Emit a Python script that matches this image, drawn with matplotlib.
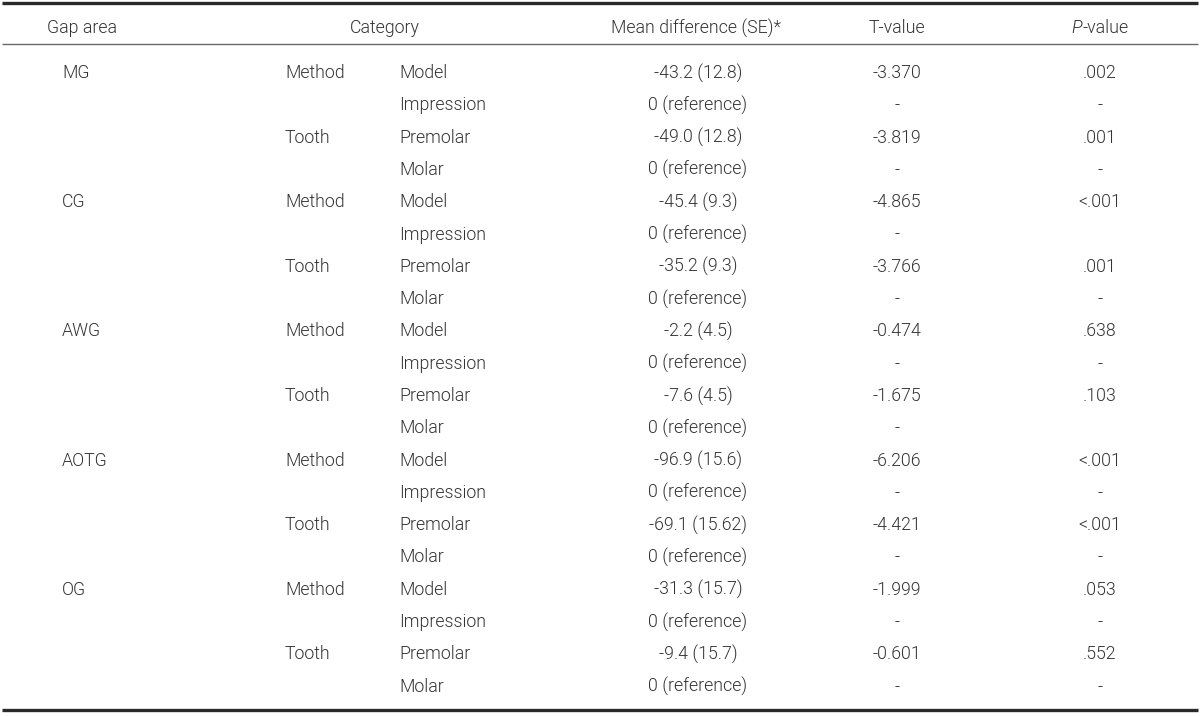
import matplotlib
matplotlib.use("Agg")
import matplotlib.pyplot as plt
from matplotlib import font_manager

# pick a light sans-serif if one is installed, else Liberation Sans
light_family, light_weight = "Liberation Sans", "normal"
for fam in ["Roboto", "Lato", "Open Sans", "Noto Sans", "Inter"]:
    if any(f.name == fam and str(f.weight) in ("300", "light")
           for f in font_manager.fontManager.ttflist):
        light_family, light_weight = fam, 300
        break

plt.rcParams['font.family'] = [light_family, 'DejaVu Sans']

headers = ["Gap area", "Category", "Mean difference (SE)*", "T-value"]
p_header = ("P", "-value")

gap_areas = ["MG", "", "", "", "CG", "", "", "", "AWG", "", "", "",
             "AOTG", "", "", "", "OG", "", "", ""]
factors = ["Method", "", "Tooth", ""] * 5
levels = ["Model", "Impression", "Premolar", "Molar"] * 5
mean_diff = ["-43.2 (12.8)", "0 (reference)", "-49.0 (12.8)", "0 (reference)",
             "-45.4 (9.3)", "0 (reference)", "-35.2 (9.3)", "0 (reference)",
             "-2.2 (4.5)", "0 (reference)", "-7.6 (4.5)", "0 (reference)",
             "-96.9 (15.6)", "0 (reference)", "-69.1 (15.62)", "0 (reference)",
             "-31.3 (15.7)", "0 (reference)", "-9.4 (15.7)", "0 (reference)"]
t_values = ["-3.370", "-", "-3.819", "-",
            "-4.865", "-", "-3.766", "-",
            "-0.474", "-", "-1.675", "-",
            "-6.206", "-", "-4.421", "-",
            "-1.999", "-", "-0.601", "-"]
p_values = [".002", "-", ".001", "-",
            "<.001", "", ".001", "-",
            ".638", "-", ".103", "",
            "<.001", "-", "<.001", "-",
            ".053", "-", ".552", "-"]

W, H = 1200, 716
fig = plt.figure(figsize=(W / 100, H / 100), dpi=100)
ax = fig.add_axes([0, 0, 1, 1])
ax.set_xlim(0, W)
ax.set_ylim(H, 0)
ax.axis("off")

txt_color = "#333333"
fs = 12.8

x_gap_hdr, x_gap = 82, 62
x_cat_hdr, x_fac, x_lvl = 385, 285, 399
x_md_hdr, x_md = 696, 698
x_t = 897
x_p = 1100

y_hdr = 28
y0, dy = 73, 32.3

ax.plot([2, 1198], [3, 3], color="#2a2a2a", lw=2.4, solid_capstyle="butt")
ax.plot([2, 1198], [44, 44], color="#6a6a6a", lw=1.0, solid_capstyle="butt")
ax.plot([2, 1198], [710, 710], color="#2a2a2a", lw=2.4, solid_capstyle="butt")

kw = dict(fontsize=fs, color=txt_color, va="center", fontweight=light_weight)
ax.text(x_gap_hdr, y_hdr, headers[0], ha="center", **kw)
ax.text(x_cat_hdr, y_hdr, headers[1], ha="center", **kw)
ax.text(x_md_hdr, y_hdr, headers[2], ha="center", **kw)
ax.text(x_t, y_hdr, headers[3], ha="center", **kw)

# P-value header: italic "P" followed by "-value", centred as a whole
renderer = fig.canvas.get_renderer()
tp = ax.text(0, y_hdr, p_header[0], ha="left", fontstyle="italic", **kw)
tv = ax.text(0, y_hdr, p_header[1], ha="left", **kw)
wp = tp.get_window_extent(renderer).width
wv = tv.get_window_extent(renderer).width
x_left = x_p - (wp + wv) / 2
tp.set_x(x_left)
tv.set_x(x_left + wp)

for i in range(len(levels)):
    y = y0 + i * dy
    if gap_areas[i]:
        ax.text(x_gap, y, gap_areas[i], ha="left", **kw)
    if factors[i]:
        ax.text(x_fac, y, factors[i], ha="left", **kw)
    ax.text(x_lvl, y, levels[i], ha="left", **kw)
    ax.text(x_md, y, mean_diff[i], ha="center", **kw)
    ax.text(x_t, y, t_values[i], ha="center", **kw)
    if p_values[i]:
        ax.text(x_p, y, p_values[i], ha="center", **kw)

fig.savefig("out.png", dpi=100, facecolor="white")
